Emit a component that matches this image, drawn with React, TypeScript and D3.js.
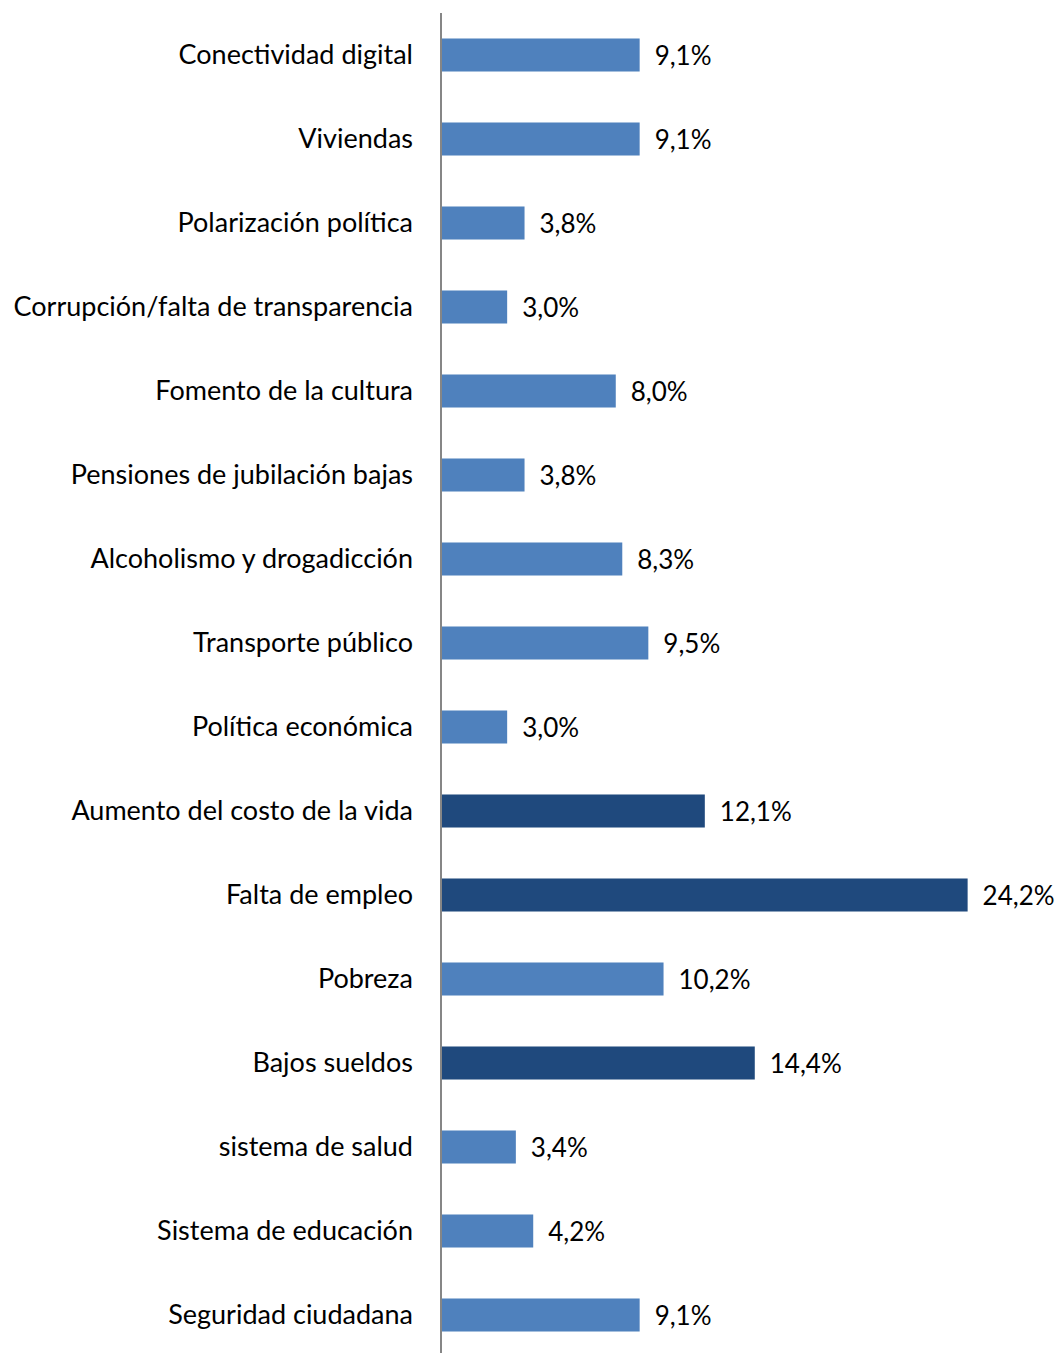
import React from 'react';
import * as d3 from 'd3';

const categories = [
  'Conectividad digital',
  'Viviendas',
  'Polarización política',
  'Corrupción/falta de transparencia',
  'Fomento de la cultura',
  'Pensiones de jubilación bajas',
  'Alcoholismo y drogadicción',
  'Transporte público',
  'Política económica',
  'Aumento del costo de la vida',
  'Falta de empleo',
  'Pobreza',
  'Bajos sueldos',
  'sistema de salud',
  'Sistema de educación',
  'Seguridad ciudadana',
];

const values = [9.1, 9.1, 3.8, 3.0, 8.0, 3.8, 8.3, 9.5, 3.0, 12.1, 24.2, 10.2, 14.4, 3.4, 4.2, 9.1];

const highlighted = ['Aumento del costo de la vida', 'Falta de empleo', 'Bajos sueldos'];

const width = 1058;
const height = 1353;

const App: React.FC = () => {
  const svgRef = React.useRef<SVGSVGElement>(null);

  React.useEffect(() => {
    document.body.style.margin = '0';
    if (!svgRef.current) return;
    const svg = d3.select(svgRef.current);
    svg.selectAll('*').remove();

    const axisX = 441;

    const yScale = d3.scaleBand<string>()
      .domain(categories)
      .range([13, 13 + categories.length * 84])
      .paddingInner(0.607)
      .paddingOuter(0.3035);

    const xScale = d3.scaleLinear()
      .domain([0, 25])
      .range([axisX + 1, axisX + 1 + 543]);

    const font = "Lato, 'Open Sans', sans-serif";

    // barras
    svg.append('g')
      .selectAll('rect')
      .data(categories)
      .enter().append('rect')
      .attr('x', xScale(0))
      .attr('y', d => yScale(d) || 0)
      .attr('width', (d, i) => xScale(values[i]) - xScale(0))
      .attr('height', yScale.bandwidth())
      .attr('fill', d => highlighted.includes(d) ? '#1F497D' : '#4F81BD');

    // eje vertical
    svg.append('line')
      .attr('x1', axisX)
      .attr('x2', axisX)
      .attr('y1', 13)
      .attr('y2', height)
      .attr('stroke', '#868686')
      .attr('stroke-width', 2);

    // etiquetas de categorías
    svg.append('g')
      .selectAll('text')
      .data(categories)
      .enter().append('text')
      .attr('x', axisX - 28)
      .attr('y', d => (yScale(d) || 0) + yScale.bandwidth() / 2)
      .attr('dy', '0.34em')
      .attr('text-anchor', 'end')
      .attr('font-family', font)
      .attr('font-size', '27px')
      .attr('fill', '#000')
      .text(d => d);

    // etiquetas de valores
    svg.append('g')
      .selectAll('text')
      .data(categories)
      .enter().append('text')
      .attr('x', (d, i) => xScale(values[i]) + 15)
      .attr('y', d => (yScale(d) || 0) + yScale.bandwidth() / 2)
      .attr('dy', '0.4em')
      .attr('font-family', font)
      .attr('font-size', '26px')
      .attr('fill', '#000')
      .text((d, i) => values[i].toFixed(1).replace('.', ',') + '%');
  }, []);

  return (
    <div style={{ width, height }}>
      <svg ref={svgRef} width={width} height={height} style={{ display: 'block' }} />
    </div>
  );
};

export default App;
